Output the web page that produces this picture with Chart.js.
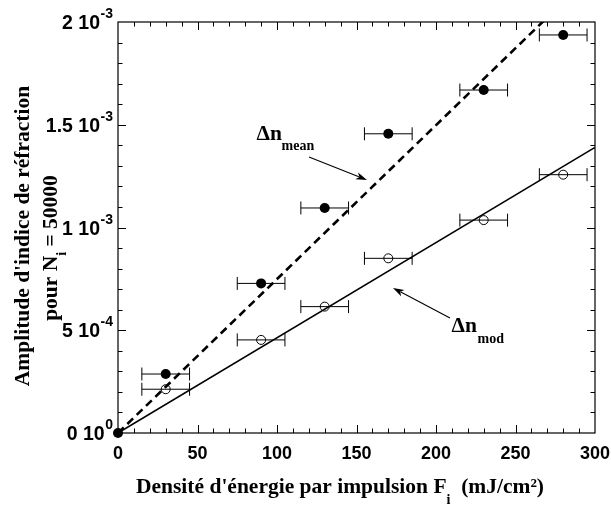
<!DOCTYPE html>
<html>
<head>
<meta charset="utf-8">
<script src="https://cdn.jsdelivr.net/npm/chart.js@4.4.1/dist/chart.umd.min.js"></script>
<style>
  html, body { margin: 0; padding: 0; background: #fff; }
  #wrap { width: 611px; height: 506px; }
</style>
</head>
<body>
<div id="wrap"><canvas id="c" width="611" height="506"></canvas></div>
<script>
// ---- data ----
const energyMean = [0, 30, 90, 130, 170, 230, 280];
const dnMean     = [0, 0.287e-3, 0.728e-3, 1.095e-3, 1.456e-3, 1.669e-3, 1.937e-3];
const errMean    = [0, 15, 15, 15, 15, 15, 15];

const energyMod  = [30, 90, 130, 170, 230, 280];
const dnMod      = [0.213e-3, 0.453e-3, 0.615e-3, 0.850e-3, 1.036e-3, 1.257e-3];
const errMod     = [15, 15, 15, 15, 15, 15];

const fitX       = [0, 300];
const fitMean    = [0, 2.247e-3];
const fitMod     = [0, 1.390e-3];

const xTickValues = [0, 50, 100, 150, 200, 250, 300];
const xTickLabels = ['0', '50', '100', '150', '200', '250', '300'];
const yTickValues = [0, 5e-4, 1e-3, 1.5e-3, 2e-3];
const yTickMant   = ['0 10', '5 10', '1 10', '1.5 10', '2 10'];
const yTickExp    = ['0', '-4', '-3', '-3', '-3'];

const pts = (xs, ys) => xs.map((x, i) => ({ x: x, y: ys[i] }));

const SERIF = '"Liberation Serif", "Times New Roman", serif';
const SANS = '"Liberation Sans", Arial, sans-serif';

function arrow(ctx, x1, y1, x2, y2) {
  const ang = Math.atan2(y2 - y1, x2 - x1);
  const L = 11, W = 3.6;
  ctx.beginPath();
  ctx.moveTo(x1, y1);
  ctx.lineTo(x2 - L * 0.8 * Math.cos(ang), y2 - L * 0.8 * Math.sin(ang));
  ctx.lineWidth = 1.1;
  ctx.strokeStyle = '#000';
  ctx.stroke();
  ctx.beginPath();
  ctx.moveTo(x2, y2);
  ctx.lineTo(x2 - L * Math.cos(ang) + W * Math.sin(ang), y2 - L * Math.sin(ang) - W * Math.cos(ang));
  ctx.lineTo(x2 - L * 0.75 * Math.cos(ang), y2 - L * 0.75 * Math.sin(ang));
  ctx.lineTo(x2 - L * Math.cos(ang) - W * Math.sin(ang), y2 - L * Math.sin(ang) + W * Math.cos(ang));
  ctx.closePath();
  ctx.fillStyle = '#000';
  ctx.fill();
}

const errorBars = {
  id: 'errorBars',
  beforeDatasetsDraw(chart) {
    const ctx = chart.ctx, xs = chart.scales.x, ys = chart.scales.y;
    ctx.save();
    ctx.strokeStyle = '#000';
    ctx.lineWidth = 1;
    const draw = (ex, ey, er) => {
      ex.forEach((x, i) => {
        if (!er[i]) return;
        const y = ys.getPixelForValue(ey[i]);
        const a = xs.getPixelForValue(x - er[i]);
        const b = xs.getPixelForValue(x + er[i]);
        ctx.beginPath();
        ctx.moveTo(a, y); ctx.lineTo(b, y);
        ctx.moveTo(a, y - 6.5); ctx.lineTo(a, y + 6.5);
        ctx.moveTo(b, y - 6.5); ctx.lineTo(b, y + 6.5);
        ctx.stroke();
      });
    };
    draw(energyMean, dnMean, errMean);
    draw(energyMod, dnMod, errMod);
    ctx.restore();
  }
};

const frame = {
  id: 'frame',
  beforeDatasetsDraw(chart) {
    const ctx = chart.ctx, xs = chart.scales.x, ys = chart.scales.y;
    const a = chart.chartArea;
    ctx.save();
    ctx.strokeStyle = '#000';
    ctx.lineWidth = 1.2;
    ctx.strokeRect(a.left, a.top, a.right - a.left, a.bottom - a.top);
    // inward ticks
    ctx.lineWidth = 1;
    ctx.beginPath();
    for (let v = 10; v < 300; v += 10) {
      const p = Math.round(xs.getPixelForValue(v)) + 0.5;
      const len = (v % 50 === 0) ? 8 : 4.5;
      ctx.moveTo(p, a.bottom); ctx.lineTo(p, a.bottom - len);
      ctx.moveTo(p, a.top); ctx.lineTo(p, a.top + len);
    }
    for (let k = 1; k < 20; k++) {
      const v = k * 1e-4;
      const p = Math.round(ys.getPixelForValue(v)) + 0.5;
      const len = (k % 5 === 0) ? 8 : 4.5;
      ctx.moveTo(a.left, p); ctx.lineTo(a.left + len, p);
      ctx.moveTo(a.right, p); ctx.lineTo(a.right - len, p);
    }
    ctx.stroke();
    ctx.restore();
  },
  afterDraw(chart) {
    const ctx = chart.ctx, xs = chart.scales.x, ys = chart.scales.y;
    ctx.save();
    // x tick labels
    ctx.fillStyle = '#000';
    ctx.font = 'bold 18px ' + SANS;
    ctx.textAlign = 'center';
    ctx.textBaseline = 'alphabetic';
    xTickValues.forEach((v, i) => {
      ctx.fillText(xTickLabels[i], xs.getPixelForValue(v), 459);
    });

    // y tick labels with superscript exponent
    yTickValues.forEach((v, i) => {
      const y = ys.getPixelForValue(v);
      ctx.font = 'bold 14px ' + SANS;
      const we = ctx.measureText(yTickExp[i]).width;
      ctx.textAlign = 'left';
      const right = 113;
      ctx.fillText(yTickExp[i], right - we, y - 4);
      ctx.font = 'bold 19.5px ' + SANS;
      ctx.textAlign = 'right';
      ctx.fillText(yTickMant[i], right - we - 0.5, y + 7);
    });

    // x axis title: Densité d'énergie par impulsion F_i (mJ/cm²)
    {
      const parts = [
        ['Densité d\'énergie par impulsion F', 'bold 21.5px ' + SERIF, 0],
        ['i', 'bold 14px ' + SERIF, 11],
        ['  (mJ/cm²)', 'bold 21.5px ' + SERIF, 0]
      ];
      let total = 0;
      parts.forEach(p => { ctx.font = p[1]; total += ctx.measureText(p[0]).width; });
      let x = 340 - total / 2;
      ctx.textAlign = 'left';
      parts.forEach(p => {
        ctx.font = p[1];
        ctx.fillText(p[0], x, 493 + p[2]);
        x += ctx.measureText(p[0]).width;
      });
    }

    // y axis title (rotated, two lines)
    ctx.save();
    ctx.translate(29, 236);
    ctx.rotate(-Math.PI / 2);
    ctx.font = 'bold 21.5px ' + SERIF;
    ctx.textAlign = 'center';
    ctx.fillText('Amplitude d\'indice de réfraction', 0, 0);
    ctx.restore();

    ctx.save();
    ctx.translate(57, 248);
    ctx.rotate(-Math.PI / 2);
    {
      const parts = [
        ['pour N', 'bold 21.5px ' + SERIF, 0],
        ['i', 'bold 14px ' + SERIF, 9],
        [' = 50000', 'bold 21.5px ' + SERIF, 0]
      ];
      let total = 0;
      parts.forEach(p => { ctx.font = p[1]; total += ctx.measureText(p[0]).width; });
      let x = -total / 2;
      ctx.textAlign = 'left';
      parts.forEach(p => {
        ctx.font = p[1];
        ctx.fillText(p[0], x, p[2]);
        x += ctx.measureText(p[0]).width;
      });
    }
    ctx.restore();

    // annotations
    ctx.textAlign = 'left';
    ctx.font = 'bold 21.5px ' + SERIF;
    ctx.fillText('\u0394n', 256.5, 139.5);
    ctx.font = 'bold 14px ' + SERIF;
    ctx.fillText('mean', 281.5, 150);
    arrow(ctx, 309, 157, 367, 180);

    ctx.font = 'bold 21.5px ' + SERIF;
    ctx.fillText('\u0394n', 451.5, 332);
    ctx.font = 'bold 14px ' + SERIF;
    ctx.fillText('mod', 477.5, 343);
    arrow(ctx, 450, 318, 393, 288);

    ctx.restore();
  }
};

new Chart(document.getElementById('c'), {
  type: 'scatter',
  data: {
    datasets: [
      {
        label: 'Δn mean',
        data: pts(energyMean, dnMean),
        pointRadius: 5,
        pointBackgroundColor: '#000',
        pointBorderColor: '#000',
        pointBorderWidth: 0,
        showLine: false,
        clip: false
      },
      {
        label: 'Δn mod',
        data: pts(energyMod, dnMod),
        pointRadius: 4.5,
        pointBackgroundColor: 'rgba(0,0,0,0)',
        pointBorderColor: '#000',
        pointBorderWidth: 1,
        showLine: false,
        clip: false
      },
      {
        type: 'line',
        label: 'fit mean',
        data: pts(fitX, fitMean),
        borderColor: '#000',
        borderWidth: 2.6,
        borderDash: [8, 5],
        pointRadius: 0,
        fill: false,
        clip: 0
      },
      {
        type: 'line',
        label: 'fit mod',
        data: pts(fitX, fitMod),
        borderColor: '#000',
        borderWidth: 1.6,
        pointRadius: 0,
        fill: false,
        clip: 0
      }
    ]
  },
  options: {
    responsive: false,
    animation: false,
    events: [],
    layout: { padding: { left: 118, right: 16, top: 22, bottom: 73 } },
    plugins: { legend: { display: false }, tooltip: { enabled: false }, title: { display: false } },
    scales: {
      x: { type: 'linear', min: 0, max: 300, display: false },
      y: { type: 'linear', min: 0, max: 2e-3, display: false }
    }
  },
  plugins: [errorBars, frame]
});
</script>
</body>
</html>
